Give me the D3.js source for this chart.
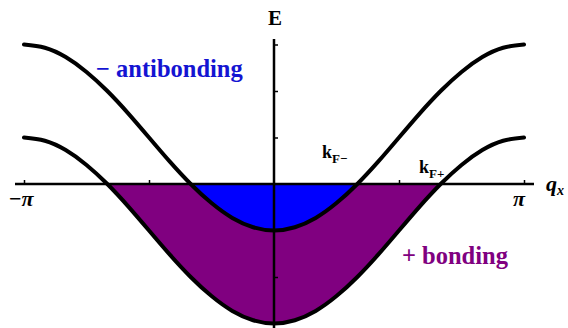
<!DOCTYPE html>
<html>
<head>
<meta charset="utf-8">
<script src="https://cdn.jsdelivr.net/npm/d3@7"></script>
<style>
  body { margin: 0; background: #fff; }
  svg { display: block; }
</style>
</head>
<body>
<div id="drawArea"></div>
<script>
// wave vector samples, in units of pi/12
var qSteps = [-12,-11,-10,-9,-8,-7,-6,-5,-4,-3,-2,-1,0,1,2,3,4,5,6,7,8,9,10,11,12];
// antibonding band energy
var antibonding = [3,2.93,2.73,2.41,2,1.52,1,0.48,0,-0.41,-0.73,-0.93,-1,
                   -0.93,-0.73,-0.41,0,0.48,1,1.52,2,2.41,2.73,2.93,3];
// bonding band energy
var bonding = [1,0.93,0.73,0.41,0,-0.48,-1,-1.52,-2,-2.41,-2.73,-2.93,-3,
               -2.93,-2.73,-2.41,-2,-1.52,-1,-0.48,0,0.41,0.73,0.93,1];
var qTicks = [-Math.PI, -Math.PI / 2, Math.PI / 2, Math.PI];
var eTicks = [3, 2, 1, -1, -2, -3];

var width = 568, height = 328;
var serif = "'Liberation Serif', 'Times New Roman', serif";

var svg = d3.select("#drawArea").append("svg")
  .attr("width", width)
  .attr("height", height);

var x = d3.scaleLinear().domain([-Math.PI, Math.PI]).range([24, 524]);
var y = d3.scaleLinear().domain([-3, 3]).range([323.5, 44.5]);

var pts = function(vals) {
  return qSteps.map(function(s, i) { return { q: s * Math.PI / 12, e: vals[i] }; });
};
var upper = pts(antibonding);
var lower = pts(bonding);

// clip fills to below the Fermi level
svg.append("clipPath").attr("id", "below")
  .append("rect")
  .attr("x", 0).attr("y", y(0))
  .attr("width", width).attr("height", height);

var area = d3.area()
  .x(function(d) { return x(d.q); })
  .y0(y(0))
  .y1(function(d) { return y(d.e); })
  .curve(d3.curveNatural);

var line = d3.line()
  .x(function(d) { return x(d.q); })
  .y(function(d) { return y(d.e); })
  .curve(d3.curveNatural);

svg.append("path").datum(lower)
  .attr("d", area).attr("fill", "#800080")
  .attr("clip-path", "url(#below)");
svg.append("path").datum(upper)
  .attr("d", area).attr("fill", "#0000ff")
  .attr("clip-path", "url(#below)");

// axes
svg.append("line")
  .attr("x1", 15).attr("x2", 534)
  .attr("y1", y(0)).attr("y2", y(0))
  .attr("stroke", "#000").attr("stroke-width", 2.5);
svg.append("line")
  .attr("x1", x(0)).attr("x2", x(0))
  .attr("y1", 39).attr("y2", 328)
  .attr("stroke", "#000").attr("stroke-width", 2.5);

var xAxis = svg.append("g")
  .attr("transform", "translate(0," + y(0) + ")")
  .call(d3.axisTop(x).tickValues(qTicks).tickSize(4).tickFormat(""));
var yAxis = svg.append("g")
  .attr("transform", "translate(" + x(0) + ",0)")
  .call(d3.axisRight(y).tickValues(eTicks).tickSize(4).tickFormat(""));
[xAxis, yAxis].forEach(function(a) {
  a.select(".domain").remove();
  a.selectAll(".tick line").attr("stroke", "#000").attr("stroke-width", 1.5);
});

// bands
[upper, lower].forEach(function(band) {
  svg.append("path").datum(band)
    .attr("d", line)
    .attr("fill", "none")
    .attr("stroke", "#000")
    .attr("stroke-width", 4)
    .attr("stroke-linecap", "round");
});

// labels
svg.append("text").attr("x", 275).attr("y", 25)
  .attr("text-anchor", "middle")
  .attr("font-family", serif).attr("font-weight", "bold").attr("font-size", 21)
  .text("E");

svg.append("text").attr("x", 96).attr("y", 77)
  .attr("font-family", serif).attr("font-weight", "bold").attr("font-size", 24.5)
  .attr("fill", "#1414d2")
  .text("\u2212 antibonding");

svg.append("text").attr("x", 402).attr("y", 264)
  .attr("font-family", serif).attr("font-weight", "bold").attr("font-size", 24.5)
  .attr("fill", "#800080")
  .text("+ bonding");

var kLabel = function(px, py, sign) {
  var t = svg.append("text").attr("x", px).attr("y", py)
    .attr("font-family", serif).attr("font-weight", "bold").attr("font-size", 18);
  t.append("tspan").text("k");
  t.append("tspan").attr("dy", 5).attr("font-size", 13).text("F" + sign);
};
kLabel(322, 158, "\u2212");
kLabel(419, 173, "+");

svg.append("text").attr("x", 9).attr("y", 206)
  .attr("font-family", serif).attr("font-weight", "bold").attr("font-size", 22)
  .html("\u2212<tspan font-style='italic'>\u03c0</tspan>");
svg.append("text").attr("x", 519).attr("y", 206)
  .attr("text-anchor", "middle")
  .attr("font-family", serif).attr("font-weight", "bold").attr("font-style", "italic").attr("font-size", 22)
  .text("\u03c0");

var qx = svg.append("text").attr("x", 546).attr("y", 191)
  .attr("font-family", serif).attr("font-weight", "bold").attr("font-style", "italic").attr("font-size", 22);
qx.append("tspan").text("q");
qx.append("tspan").attr("dy", 4).attr("font-size", 14).text("x");
</script>
</body>
</html>
